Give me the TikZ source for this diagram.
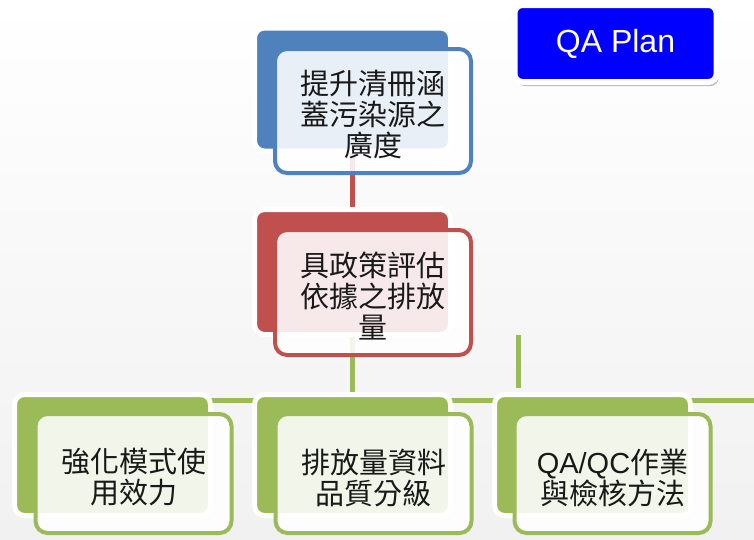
\documentclass[tikz,border=0pt]{standalone}
\usepackage{fontspec}
\newfontfamily\cjk{Noto Sans CJK TC}
\newfontfamily\arial{Liberation Sans}
\usetikzlibrary{shadows}
\definecolor{ablue}{HTML}{4F81BD}
\definecolor{ared}{HTML}{C0504D}
\definecolor{agreen}{HTML}{9BBB59}
\definecolor{bgbot}{RGB}{241,241,241}
\definecolor{qablue}{RGB}{0,0,255}
\pgfdeclarelayer{bglayer}
\pgfsetlayers{bglayer,main}
\begin{document}
\begin{tikzpicture}[x=1pt,y=-1pt,
  backbox/.style={rectangle, rounded corners=10pt, draw=white, line width=5pt, fill=#1,
    minimum width=196pt, minimum height=123pt, inner sep=0pt},
  frontbox/.style={rectangle, rounded corners=12pt, draw=#1, line width=4pt, fill=white,
    fill opacity=0.88, minimum width=196pt, minimum height=124pt, inner sep=0pt},
  txt/.style={font=\cjk\fontsize{29}{31}\selectfont, align=center, text=black!90, inner sep=0pt},
  conn/.style={line width=5pt, draw=#1},
]
\useasboundingbox (0,0) rectangle (754,539);

% back rectangles
\node[backbox=ablue] (b1) at (352.5,89.5) {};
\node[backbox=ared, minimum height=125pt] (b2) at (352.5,272) {};
\node[backbox=agreen, minimum height=121pt] (g1) at (112.5,455) {};
\node[backbox=agreen, minimum height=121pt] (g2) at (352.5,455) {};
\node[backbox=agreen, minimum height=121pt] (g3) at (592.5,455) {};

% front boxes
\node[frontbox=ablue] (f1) at (373,111) {};
\node[frontbox=ared, minimum height=125pt] (f2) at (373,292.5) {};
\node[frontbox=agreen, minimum height=119pt] (h1) at (133.5,473.5) {};
\node[frontbox=agreen, minimum height=119pt] (h2) at (373.5,473.5) {};
\node[frontbox=agreen, minimum height=119pt] (h3) at (612.5,473.5) {};

% texts
\node[txt] (t1) at ([yshift=-3.5pt]f1.center) {提升清冊涵\\蓋污染源之\\廣度};
\node[txt] (t2) at ([yshift=-3.5pt]f2.center) {具政策評估\\依據之排放\\量};
\node[txt] (t3) at ([yshift=-4pt]h1.center) {強化模式使\\用效力};
\node[txt] (t4) at ([yshift=-4pt]h2.center) {排放量資料\\品質分級};
\node[txt] (t5) at ([yshift=-4pt]h3.center) {{\arial QA/QC}作業\\與檢核方法};

% QA Plan box
\node[fill=qablue, draw=white, line width=6pt, rounded corners=8pt,
  minimum width=202pt, minimum height=77pt, inner sep=0pt, text=white,
  font=\arial\fontsize{32}{38}\selectfont,
  drop shadow={shadow xshift=2pt, shadow yshift=-4pt, opacity=0.35, fill=black!80}] (qa) at (615.5,43.5) {QA Plan};

% connectors and background
\coordinate (hl) at (112.5,400);
\coordinate (hr) at (754,400);
\coordinate (s1) at (518,335);
\coordinate (s2) at (518,388);
\begin{pgfonlayer}{bglayer}
\shade[top color=white, bottom color=bgbot] (0,0) rectangle (754,539);
\draw[conn=ared] (b1.center) -- (b2.center);
\draw[conn=agreen] (b2.center) -- (b2.center |- hl);
\draw[conn=agreen] (g1.center |- hl) -- (hr);
\draw[conn=agreen] (s1) -- (s2);
\end{pgfonlayer}
\end{tikzpicture}
\end{document}
